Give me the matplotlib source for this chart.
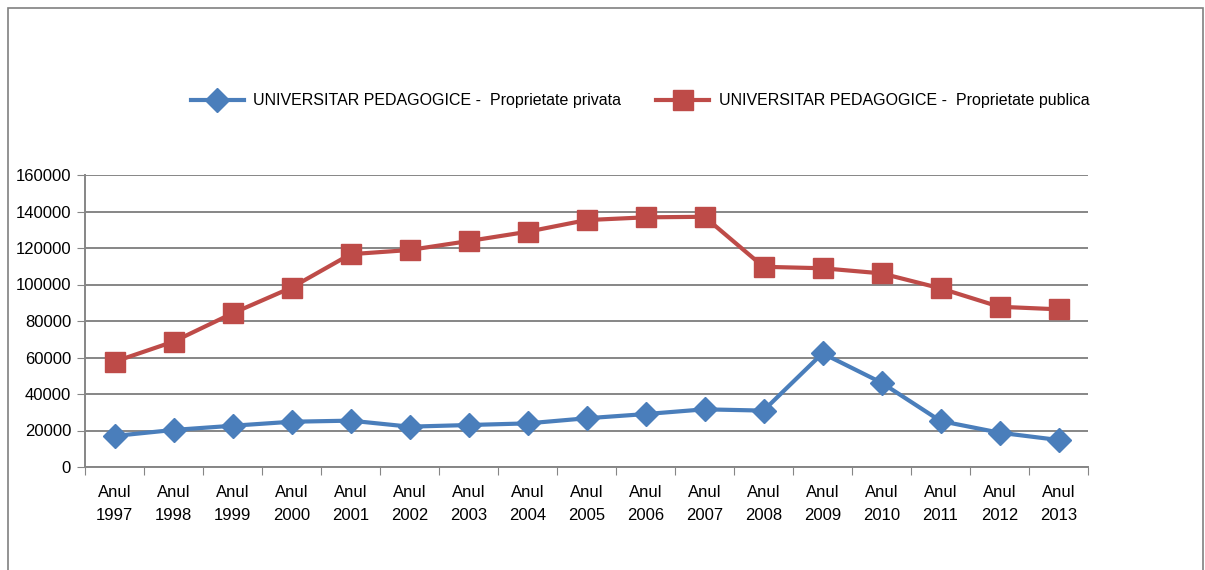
import matplotlib
matplotlib.use("Agg")
import matplotlib.pyplot as plt
from matplotlib.patches import Rectangle

# Data
years = ["1997", "1998", "1999", "2000", "2001", "2002", "2003", "2004", "2005",
         "2006", "2007", "2008", "2009", "2010", "2011", "2012", "2013"]
privata = [17000, 20300, 22600, 24800, 25400, 22100, 23000, 23900, 26700,
           29000, 31600, 30900, 62300, 46200, 25200, 18800, 14800]
publica = [57700, 68700, 84200, 98300, 116600, 118900, 123800, 128900, 135300,
           136800, 137100, 109700, 108900, 106100, 97900, 87800, 86400]
labels = ["UNIVERSITAR PEDAGOGICE -  Proprietate privata",
          "UNIVERSITAR PEDAGOGICE -  Proprietate publica"]
y_ticks = [0, 20000, 40000, 60000, 80000, 100000, 120000, 140000, 160000]

plt.rcParams["font.family"] = ["Liberation Sans", "DejaVu Sans"]

fig = plt.figure(figsize=(12.05, 5.7), dpi=100)
# outer chart frame
fig.patches.append(Rectangle((8 / 1205, -0.1), 1195 / 1205, 1.1 - 8 / 570,
                             transform=fig.transFigure, fill=False,
                             edgecolor="#808080", linewidth=1.2))

ax = fig.add_axes([85 / 1205, 1 - 467 / 570, 1003 / 1205, 292 / 570])

x = list(range(len(years)))
ax.plot(x, privata, color="#4A7EBB", linewidth=3, marker="D", markersize=12,
        label=labels[0], zorder=3)
ax.plot(x, publica, color="#BE4B48", linewidth=3, marker="s", markersize=14,
        label=labels[1], zorder=3)

ax.set_xlim(-0.5, len(years) - 0.5)
ax.set_ylim(0, 160000)
ax.set_yticks(y_ticks)
ax.set_yticklabels([str(v) for v in y_ticks], fontsize=12)

ax.set_xticks([i - 0.5 for i in range(len(years) + 1)])
ax.set_xticklabels([])
ax.set_xticks(x, minor=True)
ax.set_xticklabels(["Anul\n" + y for y in years], minor=True, fontsize=12,
                   linespacing=1.65)
ax.tick_params(axis="x", which="minor", length=0, pad=13)
ax.tick_params(axis="x", which="major", length=6, color="#868686", direction="out")
ax.tick_params(axis="y", length=6, color="#868686", direction="out", pad=4)

ax.grid(axis="y", color="#868686", linewidth=1.4)
ax.set_axisbelow(True)
for s in ["top", "right"]:
    ax.spines[s].set_visible(False)
for s in ["left", "bottom"]:
    ax.spines[s].set_color("#868686")
    ax.spines[s].set_linewidth(1.4)

fig.legend(loc="center", bbox_to_anchor=(640 / 1205, 1 - 101 / 570), ncol=2,
           frameon=False, fontsize=11.5, handlelength=3.3, columnspacing=2.2,
           handletextpad=0.6)

fig.savefig("out.png", dpi=100)
